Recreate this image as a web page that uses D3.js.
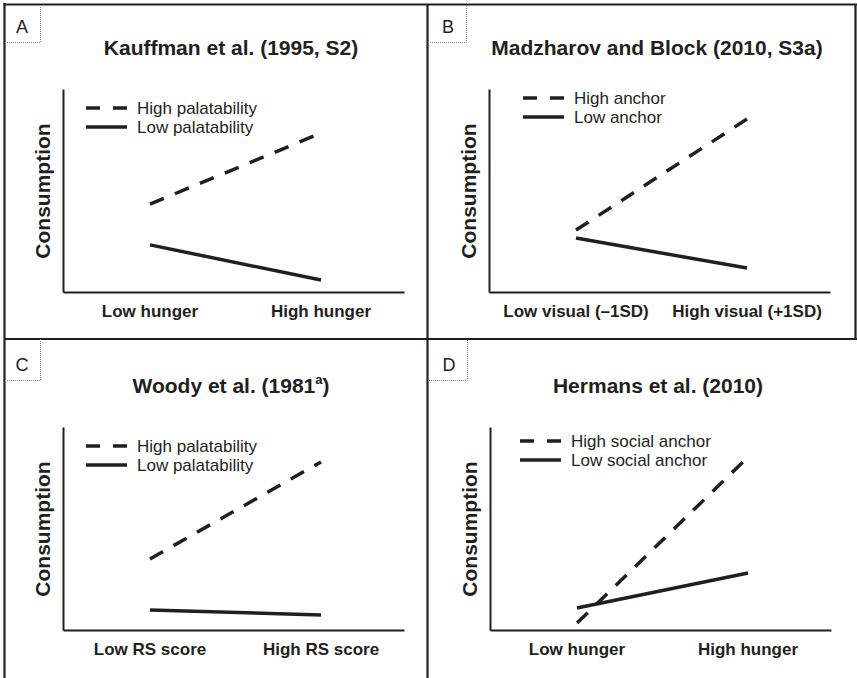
<!DOCTYPE html>
<html>
<head>
<meta charset="utf-8">
<script src="https://cdn.jsdelivr.net/npm/d3@7"></script>
<style>
  body { margin: 0; background: #fff; }
  text { font-family: "Liberation Sans", Arial, sans-serif; fill: #231f20; }
</style>
</head>
<body>
<div class="figure"></div>
<script>
// panel data
var letters = ["A", "B", "C", "D"];
var titles = ["Kauffman et al. (1995, S2)", "Madzharov and Block (2010, S3a)", "Woody et al. (1981", "Hermans et al. (2010)"];
var titleSup = ["", "", "a", ""];
var xCats = [
  ["Low hunger", "High hunger"],
  ["Low visual (\u20131SD)", "High visual (+1SD)"],
  ["Low RS score", "High RS score"],
  ["Low hunger", "High hunger"]
];
var highNames = ["High palatability", "High anchor", "High palatability", "High social anchor"];
var lowNames = ["Low palatability", "Low anchor", "Low palatability", "Low social anchor"];
var highVals = [[4.33, 7.83], [3.05, 8.52], [3.50, 8.28], [0.34, 8.52]];
var lowVals = [[2.32, 0.59], [2.66, 1.18], [0.99, 0.74], [1.08, 2.81]];
var yLabel = "Consumption";

// layout
var W = 857, H = 678;
var origins = [[0, 0], [426, 0], [0, 338], [427, 338]];
var legendPos = [[86, 108], [97, 98], [86, 108], [93, 103]];
var ink = "#231f20";

var svg = d3.select(".figure").append("svg")
  .attr("width", W)
  .attr("height", H);

// frame lines
var frame = svg.append("g").attr("stroke", ink).attr("stroke-width", 2.2);
frame.append("line").attr("x1", 4.5).attr("y1", 3).attr("x2", 4.5).attr("y2", H);
frame.append("line").attr("x1", 3.5).attr("y1", 4.5).attr("x2", W).attr("y2", 4.5);
frame.append("line").attr("x1", 427.5).attr("y1", 4).attr("x2", 427.5).attr("y2", H);
frame.append("line").attr("x1", 4).attr("y1", 339).attr("x2", W).attr("y2", 339);
frame.append("line").attr("x1", 855.5).attr("y1", 4).attr("x2", 855.5).attr("y2", 339);

var y = d3.scaleLinear().domain([0, 10]).range([292, 89]);
var xFrame = d3.scaleLinear().range([63, 404]);

letters.forEach(function(letter, i) {
  var g = svg.append("g")
    .attr("transform", "translate(" + origins[i][0] + "," + origins[i][1] + ")");

  var x = d3.scalePoint().domain(xCats[i]).range([150, 321]);

  // letter box
  g.append("path")
    .attr("d", "M" + (i % 2 ? 2 : 5) + ",42.5H40.5V" + (i < 2 ? 5 : 1))
    .attr("fill", "none")
    .attr("stroke", "#888")
    .attr("stroke-width", 1)
    .attr("stroke-dasharray", "1,1");
  g.append("text")
    .attr("x", 22).attr("y", 33)
    .attr("text-anchor", "middle")
    .style("font-size", "18px")
    .text(letter);

  // title
  var t = g.append("text")
    .attr("x", 231).attr("y", 55)
    .attr("text-anchor", "middle")
    .style("font-size", "21px")
    .style("font-weight", "bold")
    .text(titles[i]);
  if (titleSup[i]) {
    t.append("tspan").attr("dy", -9).style("font-size", "13px").text(titleSup[i]);
    t.append("tspan").attr("dy", 9).text(")");
  }

  // axes
  g.append("g").attr("transform", "translate(0,292)")
    .call(d3.axisBottom(xFrame).ticks(0).tickSizeOuter(0));
  g.append("g").attr("transform", "translate(63,0)")
    .call(d3.axisLeft(y).ticks(0).tickSizeOuter(0));
  g.selectAll(".domain").attr("stroke", ink).attr("stroke-width", 2);

  // category labels
  g.selectAll(".xlab")
    .data(xCats[i])
    .enter().append("text")
    .attr("class", "xlab")
    .attr("x", function(d) { return x(d); })
    .attr("y", 317)
    .attr("text-anchor", "middle")
    .style("font-size", "17px")
    .style("font-weight", "bold")
    .text(function(d) { return d; });

  g.append("text")
    .attr("transform", "translate(50,191) rotate(-90)")
    .attr("text-anchor", "middle")
    .style("font-size", "21px")
    .style("font-weight", "bold")
    .text(yLabel);

  // lines
  var line = d3.line()
    .x(function(d, j) { return x(xCats[i][j]); })
    .y(function(d) { return y(d); });

  g.append("path")
    .datum(highVals[i])
    .attr("d", line)
    .attr("fill", "none")
    .attr("stroke", ink)
    .attr("stroke-width", 3.5)
    .attr("stroke-dasharray", "15,12");

  g.append("path")
    .datum(lowVals[i])
    .attr("d", line)
    .attr("fill", "none")
    .attr("stroke", ink)
    .attr("stroke-width", 3.5);

  // legend
  var lx = legendPos[i][0], ly = legendPos[i][1];
  var leg = [
    { name: highNames[i], dash: "14,13", dy: 0 },
    { name: lowNames[i], dash: null, dy: 19 }
  ];
  leg.forEach(function(l) {
    g.append("line")
      .attr("x1", lx).attr("x2", lx + 41)
      .attr("y1", ly + l.dy).attr("y2", ly + l.dy)
      .attr("stroke", ink)
      .attr("stroke-width", 3.5)
      .attr("stroke-dasharray", l.dash);
    g.append("text")
      .attr("x", lx + 51)
      .attr("y", ly + l.dy + 6)
      .style("font-size", "17px")
      .text(l.name);
  });
});
</script>
</body>
</html>
